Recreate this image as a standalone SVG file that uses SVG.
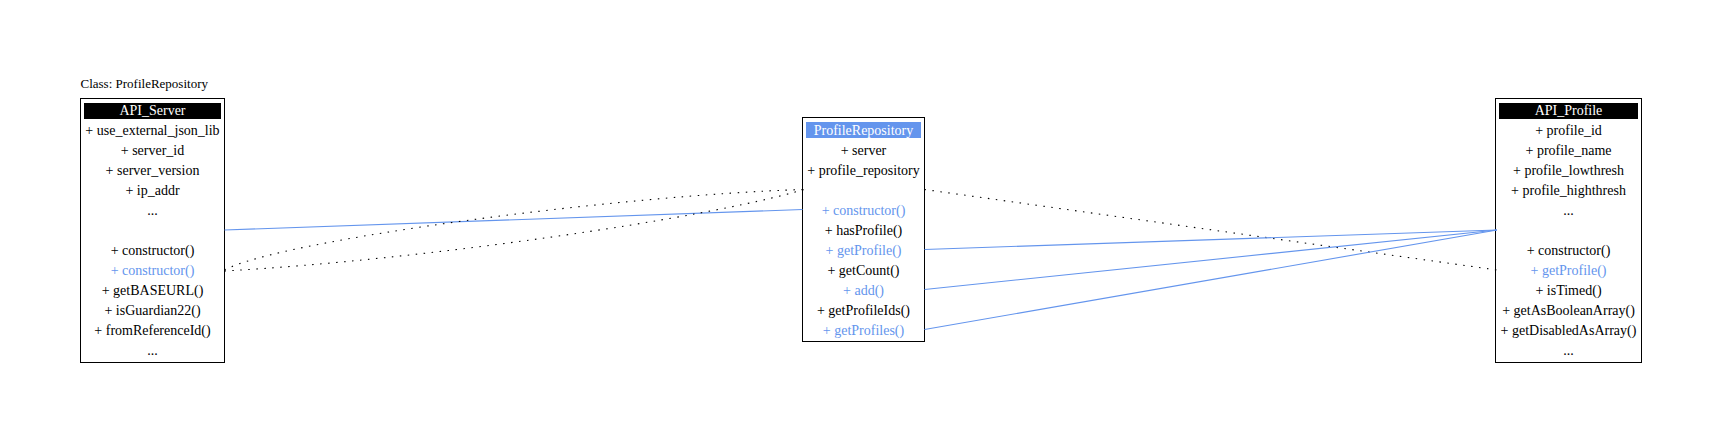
<svg xmlns="http://www.w3.org/2000/svg" width="1721" height="438" viewBox="0 0 1721 438">
<style>
text{font-family:"Liberation Serif","Times New Roman",serif;font-size:14px;fill:#000}
.title{font-size:13px}
.c{text-anchor:middle}
.hl{fill:#6495ED}
.hd{fill:#fff}
.box{fill:#fff;stroke:#000;stroke-width:1}
.hb{fill:#000}
.hbb{fill:#6495ED}
.blue{stroke:#6495ED;stroke-width:1.1;fill:none}
.dot{stroke:#000;stroke-width:1.1;fill:none;stroke-dasharray:1.5 6.5}
</style>
<rect width="1721" height="438" fill="#fff"/>
<text class="title" x="80.5" y="88">Class: ProfileRepository</text>
<g id="API_Server">
<rect class="box" x="80.5" y="98.5" width="144" height="264"/>
<rect class="hb" x="84" y="103" width="137" height="16"/>
<text class="c hd" x="152.5" y="115">API_Server</text>
<text class="c" x="152.5" y="135">+ use_external_json_lib</text>
<text class="c" x="152.5" y="155">+ server_id</text>
<text class="c" x="152.5" y="175">+ server_version</text>
<text class="c" x="152.5" y="195">+ ip_addr</text>
<text class="c" x="152.5" y="215">...</text>
<text class="c" x="152.5" y="255">+ constructor()</text>
<text class="c hl" x="152.5" y="275">+ constructor()</text>
<text class="c" x="152.5" y="295">+ getBASEURL()</text>
<text class="c" x="152.5" y="315">+ isGuardian22()</text>
<text class="c" x="152.5" y="335">+ fromReferenceId()</text>
<text class="c" x="152.5" y="355">...</text>
</g>
<g id="ProfileRepository">
<rect class="box" x="802.5" y="117.5" width="122" height="224"/>
<rect class="hbb" x="806" y="122" width="115" height="16"/>
<text class="c hd" x="863.5" y="134.5">ProfileRepository</text>
<text class="c" x="863.5" y="154.5">+ server</text>
<text class="c" x="863.5" y="174.5">+ profile_repository</text>
<text class="c hl" x="863.5" y="214.5">+ constructor()</text>
<text class="c" x="863.5" y="234.5">+ hasProfile()</text>
<text class="c hl" x="863.5" y="254.5">+ getProfile()</text>
<text class="c" x="863.5" y="274.5">+ getCount()</text>
<text class="c hl" x="863.5" y="294.5">+ add()</text>
<text class="c" x="863.5" y="314.5">+ getProfileIds()</text>
<text class="c hl" x="863.5" y="334.5">+ getProfiles()</text>
</g>
<g id="API_Profile">
<rect class="box" x="1495.5" y="98.5" width="146" height="264"/>
<rect class="hb" x="1499" y="103" width="139" height="16"/>
<text class="c hd" x="1568.5" y="115">API_Profile</text>
<text class="c" x="1568.5" y="135">+ profile_id</text>
<text class="c" x="1568.5" y="155">+ profile_name</text>
<text class="c" x="1568.5" y="175">+ profile_lowthresh</text>
<text class="c" x="1568.5" y="195">+ profile_highthresh</text>
<text class="c" x="1568.5" y="215">...</text>
<text class="c" x="1568.5" y="255">+ constructor()</text>
<text class="c hl" x="1568.5" y="275">+ getProfile()</text>
<text class="c" x="1568.5" y="295">+ isTimed()</text>
<text class="c" x="1568.5" y="315">+ getAsBooleanArray()</text>
<text class="c" x="1568.5" y="335">+ getDisabledAsArray()</text>
<text class="c" x="1568.5" y="355">...</text>
</g>
<g id="connectors">
<line class="blue" x1="224.5" y1="230" x2="802.5" y2="209.5"/>
<path class="dot" d="M224.5,270 C280,240 620,195 804,189.5"/>
<path class="dot" d="M224.5,271 C420,260 705,219 804,189.5"/>
<line class="dot" x1="924.5" y1="189.5" x2="1497" y2="270"/>
<line class="blue" x1="924.5" y1="249.5" x2="1497" y2="230"/>
<line class="blue" x1="924.5" y1="289.5" x2="1497" y2="230"/>
<line class="blue" x1="924.5" y1="329.5" x2="1497" y2="230"/>
</g>
</svg>
